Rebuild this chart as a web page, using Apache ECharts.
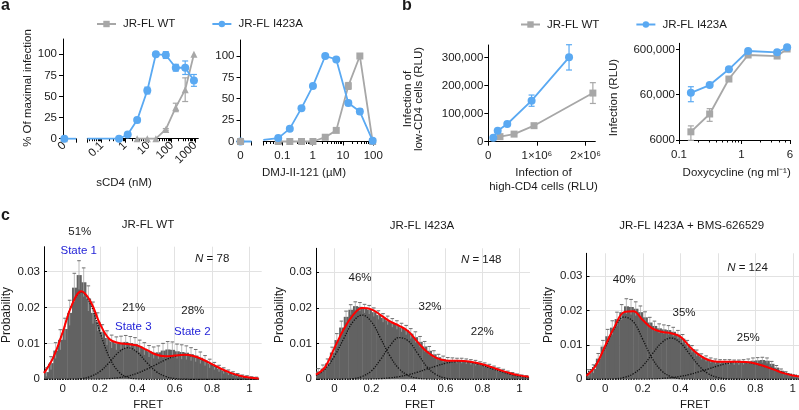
<!DOCTYPE html>
<html><head><meta charset="utf-8"><title>chart</title>
<script src="https://cdn.jsdelivr.net/npm/echarts@6.0.0/dist/echarts.min.js"></script>
<style>html,body{margin:0;padding:0;background:#fff;}#chart{width:799px;height:410px;}</style>
</head><body><div id="chart"></div>
<script>
// ================= DATA =================
// Panel a (left): sCD4 (nM)
const sCD4_x        = [0.55, 1.3, 3.3, 9, 21, 56, 150, 380, 900];
const sCD4_I423A_y  = [0, 5, 22, 57, 100, 99, 84, 84, 69];
const sCD4_I423A_e  = [0, 1, 3, 4, 2, 4, 4, 8, 7];
const sCD4_WT_x     = [3.3, 9, 21, 56, 150, 380, 900];
const sCD4_WT_y     = [0, 0, 0, 11, 37, 58, 100];
const sCD4_WT_e     = [0, 0, 0, 1, 5, 14, 0];
const sCD4_zero     = [0, 0];          // [WT, I423A] at 0 nM
const sCD4_lead     = [0.024, 0];      // I423A line start at axis edge
const sCD4_ticks    = [0.1, 1, 10, 100, 1000];
const pct_ticks     = [0, 25, 50, 75, 100];

// Panel a (right): DMJ-II-121 (uM)
const dmj_x         = [0.073, 0.176, 0.427, 1.02, 2.6, 6, 15, 36, 95];
const dmj_I423A_y   = [4, 15, 39, 65, 100, 96, 45, 35, 1];
const dmj_I423A_e   = [0, 0, 0, 0, 0, 0, 3, 3, 0];
const dmj_WT_y      = [0, 0, 0, 0, 5, 13, 65, 100, 0];
const dmj_WT_e      = [0, 0, 0, 0, 0, 0, 4, 0, 0];
const dmj_zero      = [0, 0];
const dmj_lead      = [0.0235, 2];
const dmj_ticks     = [0.1, 1, 10, 100];

// Panel b (left): high-CD4 vs low-CD4 infection (RLU)
const b1_I423A_x    = [0.103e6, 0.193e6, 0.39e6, 0.89e6, 1.66e6];
const b1_I423A_y    = [14000, 39000, 63000, 146000, 300000];
const b1_I423A_e    = [0, 4000, 3000, 20000, 45000];
const b1_WT_x       = [0.24e6, 0.53e6, 0.94e6, 2.15e6];
const b1_WT_y       = [18000, 27000, 57000, 173000];
const b1_WT_e       = [2000, 2000, 3000, 37000];
const b1_xticks     = [0, 1e6, 2e6];
const b1_xlabels    = ['0', '1×10⁶', '2×10⁶'];
const b1_yticks     = [0, 100000, 200000, 300000];

// Panel b (right): Doxycycline (ng/ml) vs infection (RLU)
const dox_x         = [0.155, 0.31, 0.63, 1.28, 3.73, 5.4];
const dox_I423A_y   = [66000, 98000, 218000, 553000, 517000, 667000];
const dox_I423A_e   = [24000, 5000, 15000, 30000, 20000, 30000];
const dox_WT_y      = [9100, 22500, 133000, 451000, 428000, 612000];
const dox_WT_e      = [3200, 7000, 8000, 20000, 20000, 25000];
const dox_xticks    = [0.1, 1, 6];
const dox_yticks    = [6000, 60000, 600000];
const dox_ylabels   = ['6000', '60,000', '600,000'];

// Panel c: FRET histograms
const binWidth = 0.025;
const fretBins = [-0.0875,-0.0625,-0.0375,-0.0125,0.0125,0.0375,0.0625,0.0875,0.1125,0.1375,0.1625,0.1875,0.2125,0.2375,0.2625,0.2875,0.3125,0.3375,0.3625,0.3875,0.4125,0.4375,0.4625,0.4875,0.5125,0.5375,0.5625,0.5875,0.6125,0.6375,0.6625,0.6875,0.7125,0.7375,0.7625,0.7875,0.8125,0.8375,0.8625,0.8875,0.9125,0.9375,0.9625,0.9875,1.0125,1.0375];
const fret_ticks = [0, 0.2, 0.4, 0.6, 0.8, 1];
const prob_ticks = [0, 0.01, 0.02, 0.03];
const fitX = [-0.1,-0.05,0,0.05,0.1,0.15,0.2,0.25,0.3,0.35,0.4,0.45,0.5,0.55,0.6,0.65,0.7,0.75,0.8,0.85,0.9,0.95,1.0,1.05];

const wt_hist = [0.0020,0.0045,0.0080,0.0110,0.0140,0.0185,0.0255,0.0290,0.0270,0.0225,0.0185,0.0160,0.0132,0.0115,0.0105,0.0100,0.0102,0.0104,0.0101,0.0098,0.0092,0.0085,0.0078,0.0074,0.0075,0.0080,0.0083,0.0082,0.0078,0.0076,0.0074,0.0070,0.0066,0.0060,0.0052,0.0044,0.0037,0.0030,0.0024,0.0019,0.0015,0.0011,0.0008,0.0006,0.0004,0.0003];
const wt_err  = [0.0012,0.0018,0.0022,0.0028,0.003,0.0035,0.004,0.004,0.004,0.0035,0.003,0.0025,0.002,0.002,0.0018,0.0018,0.0018,0.0018,0.0018,0.0018,0.0017,0.0017,0.0016,0.0016,0.0018,0.002,0.0022,0.0022,0.002,0.002,0.0019,0.0018,0.0017,0.0016,0.0014,0.0012,0.001,0.0009,0.0008,0.0007,0.0006,0.0005,0.0004,0.0004,0.0003,0.0003];
const wt_fit  = [0.0017,0.0061,0.0131,0.0208,0.0245,0.0216,0.0154,0.0112,0.0101,0.0098,0.0094,0.0082,0.0069,0.0064,0.0066,0.0068,0.0065,0.0055,0.0042,0.0029,0.0018,0.0010,0.0005,0.0002];
const wt_s1   = [0.0021,0.0061,0.0131,0.0208,0.0243,0.0208,0.0131,0.0061,0.0021,0.0005,0.0001,0,0,0,0,0,0,0,0,0,0,0,0,0];
const wt_s3   = [0,0,0,0.00003,0.0002,0.0008,0.0022,0.0047,0.0075,0.0088,0.0075,0.0047,0.0022,0.0008,0.0002,0.00003,0,0,0,0,0,0,0,0];
const wt_s2   = [0,0,0,0,0.00001,0.00003,0.00008,0.0002,0.00045,0.0009,0.0017,0.0028,0.0041,0.0054,0.0064,0.0068,0.0064,0.0054,0.0041,0.0028,0.0017,0.0009,0.00045,0.0002];

const mut_hist = [0.0022,0.0030,0.0045,0.0075,0.0110,0.0145,0.0175,0.0195,0.0205,0.0203,0.0198,0.0195,0.0188,0.0180,0.0172,0.0165,0.0158,0.0152,0.0145,0.0138,0.0128,0.0118,0.0105,0.0092,0.0080,0.0070,0.0062,0.0057,0.0054,0.0053,0.0052,0.0052,0.0050,0.0048,0.0046,0.0043,0.0040,0.0036,0.0032,0.0027,0.0023,0.0019,0.0015,0.0012,0.0009,0.0007];
const mut_err  = [0.0008,0.001,0.0012,0.0015,0.0018,0.0018,0.0016,0.0014,0.0012,0.0012,0.0012,0.0012,0.0012,0.0012,0.0012,0.0012,0.0012,0.0012,0.0012,0.0013,0.0014,0.0015,0.0015,0.0014,0.0012,0.001,0.0008,0.0008,0.0007,0.0007,0.0007,0.0007,0.0007,0.0007,0.0007,0.0006,0.0006,0.0006,0.0005,0.0005,0.0005,0.0004,0.0004,0.0003,0.0003,0.0003];
const mut_fit  = [0.0013,0.0035,0.0088,0.0140,0.0180,0.0200,0.0196,0.0180,0.0162,0.0150,0.0134,0.0104,0.0077,0.0060,0.0053,0.0052,0.0051,0.0048,0.0042,0.0034,0.0025,0.0017,0.0011,0.0007];
const mut_s1   = [0.00105,0.0029,0.0065,0.0114,0.0161,0.0180,0.0161,0.0114,0.0065,0.0029,0.00105,0.0003,0.00007,0.00001,0,0,0,0,0,0,0,0,0,0];
const mut_s3   = [0,0,0,0.00003,0.00018,0.0008,0.0024,0.0056,0.0094,0.0117,0.0107,0.0072,0.0035,0.0013,0.00034,0.00007,0.00001,0,0,0,0,0,0,0];
const mut_s2   = [0,0,0,0,0.00001,0.00004,0.00009,0.0002,0.00041,0.00076,0.0013,0.0020,0.0029,0.0037,0.0045,0.0049,0.0050,0.0046,0.0039,0.0030,0.0022,0.0014,0.00085,0.00047];

const bms_hist = [0.0018,0.0030,0.0060,0.0095,0.0125,0.0150,0.0175,0.0195,0.0212,0.0210,0.0205,0.0195,0.0180,0.0165,0.0155,0.0148,0.0145,0.0143,0.0138,0.0130,0.0118,0.0102,0.0088,0.0076,0.0066,0.0060,0.0055,0.0052,0.0050,0.0050,0.0050,0.0049,0.0049,0.0050,0.0052,0.0054,0.0055,0.0056,0.0054,0.0045,0.0034,0.0025,0.0018,0.0012,0.0009,0.0006];
const bms_err  = [0.001,0.0012,0.0015,0.0018,0.002,0.002,0.002,0.0022,0.0022,0.0022,0.002,0.0018,0.0016,0.0015,0.0014,0.0013,0.0013,0.0013,0.0013,0.0012,0.0012,0.0011,0.001,0.0009,0.0008,0.0008,0.0007,0.0007,0.0007,0.0007,0.0007,0.0007,0.0007,0.0007,0.0007,0.0008,0.0008,0.0008,0.0008,0.0007,0.0006,0.0005,0.0004,0.0003,0.0003,0.0003];
const bms_fit  = [0.0010,0.0040,0.0098,0.0153,0.0195,0.0198,0.0172,0.0148,0.0138,0.0134,0.0124,0.0095,0.0071,0.0056,0.0051,0.0051,0.0051,0.0050,0.0046,0.0038,0.0028,0.0018,0.0011,0.0007];
const bms_s1   = [0.0016,0.0044,0.0093,0.0149,0.0181,0.0167,0.0116,0.0061,0.0025,0.00075,0.00017,0.00003,0,0,0,0,0,0,0,0,0,0,0,0];
const bms_s3   = [0,0,0.00003,0.00013,0.00053,0.0016,0.0039,0.0073,0.0106,0.0120,0.0106,0.0073,0.0039,0.0016,0.00053,0.00013,0.00003,0,0,0,0,0,0,0];
const bms_s2   = [0,0,0,0,0,0.00002,0.00005,0.00011,0.00024,0.00047,0.00085,0.0014,0.0022,0.0030,0.0039,0.0046,0.0050,0.0049,0.0045,0.0037,0.0029,0.0020,0.0013,0.00076];

// ================= CHART =================
const FONT = '"Liberation Sans", Arial, Helvetica, sans-serif';
const BLUE = '#5aa9f2', GRAY = '#a7a7a7', SBLUE = '#2424d8', INK = '#1a1a1a';
const lg = Math.log10;
const lgs = a => a.map(lg);
const zip = (xs, ys, fx, fy) => xs.map((x, i) => [fx ? fx(x) : x, fy ? fy(ys[i]) : ys[i]]);
const numStr = x => String(+x.toPrecision(4));
const nearest = (arr, v) => { let b = 0; arr.forEach((t, i) => { if (Math.abs(t - v) < Math.abs(arr[b] - v)) b = i; }); return b; };
function logMinor(lo, hi) {
  const out = [];
  for (let e = -3; e <= 6; e++) for (let k = 2; k <= 9; k++) {
    const v = k * Math.pow(10, e);
    if (v > lo && v < hi) out.push(lg(v));
  }
  return out;
}

const G = [
  [63, 39, 13, 99.7],
  [87.3, 39, 111, 99.7],
  [240.5, 40, 11, 101.5],
  [263.3, 40, 110, 101.5],
  [488.3, 45, 107, 96.7],
  [679, 43.3, 111, 96.7],
  [44, 246.7, 217.7, 132.6],
  [316, 248.3, 214, 131],
  [586.5, 253.3, 212.5, 126]
];

function axis(o) {
  return {
    type: 'value', gridIndex: o.g, min: o.min, max: o.max, show: o.show !== false, position: o.pos,
    axisLine: { show: o.line !== false, onZero: false, lineStyle: { color: '#000', width: 1 } },
    axisTick: { show: !!o.ticks, customValues: o.ticks, length: o.tl || 4, inside: !!o.inside, lineStyle: { color: '#000', width: 1 } },
    axisLabel: { show: !!o.labels, customValues: o.labels, formatter: o.fmt, margin: o.m == null ? 5 : o.m, rotate: o.rot || 0,
                 fontSize: o.fs || 11.5, color: INK, fontFamily: FONT },
    splitLine: { show: false }, splitArea: { show: false }, axisPointer: { show: false }
  };
}
const logFmt = v => numStr(Math.pow(10, v));

const A1min = lg(0.024), A1max = lg(1387), A2min = lg(0.0235), A2max = 2;
const xAxes = [
  axis({ g: 0, min: 0, max: 1, ticks: [1], labels: [0.1], fmt: () => '0', rot: 45, m: 5, pos: 'bottom' }),
  axis({ g: 1, min: A1min, max: A1max, ticks: [A1min].concat(lgs(sCD4_ticks)), labels: lgs(sCD4_ticks), fmt: logFmt, rot: 45, m: 5, pos: 'bottom' }),
  axis({ g: 1, min: A1min, max: A1max, line: false, ticks: logMinor(0.024, 1387), tl: 2.5, pos: 'bottom' }),
  axis({ g: 2, min: 0, max: 1, ticks: [1], labels: [0], fmt: () => '0', m: 8, pos: 'bottom' }),
  axis({ g: 3, min: A2min, max: A2max, ticks: [A2min].concat(lgs(dmj_ticks)), labels: lgs(dmj_ticks), fmt: logFmt, m: 8, pos: 'bottom' }),
  axis({ g: 3, min: A2min, max: A2max, line: false, ticks: logMinor(0.0235, 100), tl: 2.5, pos: 'bottom' }),
  axis({ g: 4, min: 0, max: 2.2e6, ticks: b1_xticks, labels: b1_xticks, fmt: v => b1_xlabels[nearest(b1_xticks, v)], m: 8, pos: 'bottom' }),
  axis({ g: 5, min: -1, max: lg(6), ticks: lgs(dox_xticks), labels: lgs(dox_xticks), fmt: v => numStr(dox_xticks[nearest(lgs(dox_xticks), v)]), m: 9, pos: 'bottom' }),
  axis({ g: 5, min: -1, max: lg(6), line: false, ticks: logMinor(0.1, 6), tl: 2.5, pos: 'bottom' }),
  axis({ g: 6, min: -0.1, max: 1.066, line: false, labels: fret_ticks, fmt: v => numStr(v), m: 4, pos: 'bottom' }),
  axis({ g: 7, min: -0.1, max: 1.057, line: false, labels: fret_ticks, fmt: v => numStr(v), m: 4, pos: 'bottom' }),
  axis({ g: 8, min: -0.1, max: 1.033, line: false, labels: fret_ticks, fmt: v => numStr(v), m: 4, pos: 'bottom' })
];
const yAxes = [
  axis({ g: 0, min: 0, max: 118, ticks: pct_ticks, labels: pct_ticks, fmt: v => numStr(v), m: 6, pos: 'left' }),
  axis({ g: 1, min: 0, max: 118, show: false }),
  axis({ g: 2, min: 0, max: 118.7, ticks: pct_ticks, labels: pct_ticks, fmt: v => numStr(v), m: 6, pos: 'left' }),
  axis({ g: 3, min: 0, max: 118.7, show: false }),
  axis({ g: 4, min: 0, max: 344000, ticks: b1_yticks, labels: b1_yticks, fmt: v => v.toLocaleString('en-US'), m: 5, pos: 'left' }),
  axis({ g: 5, min: lg(6000), max: lg(818000), ticks: lgs(dox_yticks), labels: lgs(dox_yticks), fmt: v => dox_ylabels[nearest(lgs(dox_yticks), v)], m: 4, tl: 3, pos: 'left' }),
  axis({ g: 6, min: 0, max: 0.0369, ticks: prob_ticks, labels: prob_ticks, fmt: v => numStr(v), m: 4, tl: 3, inside: true, pos: 'left' }),
  axis({ g: 7, min: 0, max: 0.0367, ticks: prob_ticks, labels: prob_ticks, fmt: v => numStr(v), m: 4, tl: 3, inside: true, pos: 'left' }),
  axis({ g: 8, min: 0, max: 0.0366, ticks: prob_ticks, labels: prob_ticks, fmt: v => numStr(v), m: 4, tl: 3, inside: true, pos: 'left' })
];

const series = [];
function line(name, xi, yi, data, color, symbol, size, z, width) {
  series.push({ type: 'line', name, xAxisIndex: xi, yAxisIndex: yi, data, symbol, symbolSize: size,
    lineStyle: { color, width: width || 1.8 }, itemStyle: { color }, z: z || 3, clip: false, silent: true,
    emphasis: { disabled: true }, animation: false });
}
function errRender(color, cap) {
  return function (params, api) {
    const x = api.value(0), lo = api.value(1), hi = api.value(2);
    const a = api.coord([x, lo]), b = api.coord([x, hi]);
    const st = { stroke: color, lineWidth: 1.2 };
    return { type: 'group', children: [
      { type: 'line', shape: { x1: a[0], y1: a[1], x2: b[0], y2: b[1] }, style: st },
      { type: 'line', shape: { x1: a[0] - cap, y1: a[1], x2: a[0] + cap, y2: a[1] }, style: st },
      { type: 'line', shape: { x1: b[0] - cap, y1: b[1], x2: b[0] + cap, y2: b[1] }, style: st }
    ]};
  };
}
function errs(xi, yi, xs, ys, es, fx, fy, color) {
  const data = [];
  xs.forEach((x, i) => { if (es[i] > 0) data.push([fx(x), fy(Math.max(1e-9, ys[i] - es[i])), fy(ys[i] + es[i])]); });
  series.push({ type: 'custom', xAxisIndex: xi, yAxisIndex: yi, data, renderItem: errRender(color, 3), z: 2, silent: true, animation: false });
}
const id = v => v;

// ---- panel a right (first so legend gets square icon) ----
line('JR-FL WT', 4, 3, zip(dmj_x, dmj_WT_y, lg), GRAY, 'rect', 7, 3);
line('JR-FL I423A', 4, 3, [{ value: [lg(dmj_lead[0]), dmj_lead[1]], symbol: 'none' }].concat(zip(dmj_x, dmj_I423A_y, lg)), BLUE, 'circle', 8, 4);
errs(4, 3, dmj_x, dmj_WT_y, dmj_WT_e, lg, id, GRAY);
errs(4, 3, dmj_x, dmj_I423A_y, dmj_I423A_e, lg, id, BLUE);
line('', 3, 2, [[0, dmj_zero[1]], { value: [1, dmj_zero[1]], symbol: 'none' }], BLUE, 'circle', 8, 3);
line('', 3, 2, [[0, dmj_zero[0]]], GRAY, 'rect', 7, 4);

// ---- panel a left ----
line('', 1, 1, zip(sCD4_WT_x, sCD4_WT_y, lg), GRAY, 'triangle', 7, 3);
line('', 1, 1, [{ value: [lg(sCD4_lead[0]), sCD4_lead[1]], symbol: 'none' }].concat(zip(sCD4_x, sCD4_I423A_y, lg)), BLUE, 'circle', 8, 4);
errs(1, 1, sCD4_WT_x, sCD4_WT_y, sCD4_WT_e, lg, id, GRAY);
errs(1, 1, sCD4_x, sCD4_I423A_y, sCD4_I423A_e, lg, id, BLUE);
line('', 0, 0, [[0.1, sCD4_zero[0]]], GRAY, 'triangle', 7, 3);
line('', 0, 0, [[0.1, sCD4_zero[1]], { value: [1, sCD4_zero[1]], symbol: 'none' }], BLUE, 'circle', 8, 4);

// ---- panel b left ----
line('JR-FL WT', 6, 4, zip(b1_WT_x, b1_WT_y), GRAY, 'rect', 7, 3);
line('JR-FL I423A', 6, 4, zip(b1_I423A_x, b1_I423A_y), BLUE, 'circle', 8, 4);
errs(6, 4, b1_WT_x, b1_WT_y, b1_WT_e, id, id, GRAY);
errs(6, 4, b1_I423A_x, b1_I423A_y, b1_I423A_e, id, id, BLUE);

// ---- panel b right ----
line('JR-FL WT', 7, 5, zip(dox_x, dox_WT_y, lg, lg), GRAY, 'rect', 7, 3);
line('JR-FL I423A', 7, 5, zip(dox_x, dox_I423A_y, lg, lg), BLUE, 'circle', 8, 4);
errs(7, 5, dox_x, dox_WT_y, dox_WT_e, lg, lg, GRAY);
errs(7, 5, dox_x, dox_I423A_y, dox_I423A_e, lg, lg, BLUE);

// ---- panel c ----
function histRender(params, api) {
  const x = api.value(0), y = api.value(1), e = api.value(2);
  const p0 = api.coord([x - binWidth / 2, 0]);
  const p1 = api.coord([x + binWidth / 2, y]);
  const top = api.coord([x, y + e]);
  const bot = api.coord([x, Math.max(0, y - e)]);
  return { type: 'group', children: [
    { type: 'rect', shape: { x: p0[0], y: p1[1], width: p1[0] - p0[0] + 0.4, height: p0[1] - p1[1] }, style: { fill: '#626262' } },
    { type: 'line', shape: { x1: top[0], y1: top[1], x2: bot[0], y2: bot[1] }, style: { stroke: '#a9a9a9', lineWidth: 0.8 } },
    { type: 'line', shape: { x1: top[0] - 1.8, y1: top[1], x2: top[0] + 1.8, y2: top[1] }, style: { stroke: '#6f6f6f', lineWidth: 1 } }
  ]};
}
function fretPanel(xi, yi, hist, err, fit, comps) {
  series.push({ type: 'line', xAxisIndex: xi, yAxisIndex: yi, data: [], silent: true, z: 0, animation: false,
    markLine: { silent: true, symbol: 'none', label: { show: false }, animation: false, z: 0,
      lineStyle: { color: '#e2e2e2', width: 1, type: 'solid' },
      data: fret_ticks.map(v => ({ xAxis: v })).concat(prob_ticks.slice(1).map(v => ({ yAxis: v }))) } });
  series.push({ type: 'custom', xAxisIndex: xi, yAxisIndex: yi, data: fretBins.map((x, i) => [x, hist[i], err[i]]),
    renderItem: histRender, z: 1, silent: true, animation: false });
  comps.forEach(c => series.push({ type: 'line', xAxisIndex: xi, yAxisIndex: yi, data: zip(fitX, c), smooth: 0.4, symbol: 'none',
    lineStyle: { color: '#111', width: 1.3, type: 'dotted' }, z: 3, silent: true, animation: false }));
  series.push({ type: 'line', xAxisIndex: xi, yAxisIndex: yi, data: zip(fitX, fit), smooth: 0.4, symbol: 'none',
    lineStyle: { color: '#ff0000', width: 2 }, z: 4, silent: true, animation: false });
}
fretPanel(9, 6, wt_hist, wt_err, wt_fit, [wt_s1, wt_s3, wt_s2]);
fretPanel(10, 7, mut_hist, mut_err, mut_fit, [mut_s1, mut_s3, mut_s2]);
fretPanel(11, 8, bms_hist, bms_err, bms_fit, [bms_s1, bms_s3, bms_s2]);

// ---- texts ----
function T(text, x, y, o) {
  o = o || {};
  return { type: 'text', x, y, rotation: o.rot || 0, silent: true, z: 100,
    style: { text, fill: o.color || INK, fontSize: o.fs || 11.5, fontFamily: FONT, fontWeight: o.bold ? 'bold' : 'normal',
      align: o.align || 'center', verticalAlign: 'middle', lineHeight: o.lh, rich: o.rich } };
}
const R90 = Math.PI / 2;
const nRich = { i: { fontStyle: 'italic', fontSize: 11.5, fontFamily: FONT, fill: INK } };
const graphics = [
  T('a', 1, 6, { bold: true, fs: 16, align: 'left' }),
  T('b', 402, 6, { bold: true, fs: 16, align: 'left' }),
  T('c', 1, 216, { bold: true, fs: 16, align: 'left' }),
  T('% Of maximal infection', 28, 88, { rot: R90 }),
  T('sCD4 (nM)', 124, 183),
  T('DMJ-II-121 (µM)', 304, 173.3),
  T('Infection of\nlow-CD4 cells (RLU)', 413.5, 99, { rot: R90, lh: 11.5 }),
  T('Infection of\nhigh-CD4 cells (RLU)', 543.5, 180, { lh: 13.4 }),
  T('Infection (RLU)', 613.5, 97.5, { rot: R90 }),
  T('Doxycycline (ng ml⁻¹)', 736.7, 172.7),
  T('JR-FL WT', 148, 225),
  T('JR-FL I423A', 422, 226),
  T('JR-FL I423A + BMS-626529', 691.7, 225.5),
  T('Probability', 7, 315, { rot: R90, fs: 12 }),
  T('Probability', 279.5, 315, { rot: R90, fs: 12 }),
  T('Probability', 548.5, 315, { rot: R90, fs: 12 }),
  T('FRET', 148.3, 404.5),
  T('FRET', 420, 404.5),
  T('FRET', 695, 404.5),
  T('51%', 79.8, 231.5),
  T('State 1', 78.7, 250.8, { color: SBLUE }),
  T('{i|N} = 78', 212.2, 258.5, { rich: nRich }),
  T('21%', 133.7, 308.3),
  T('28%', 192.8, 310.8),
  T('State 3', 133.3, 327.2, { color: SBLUE }),
  T('State 2', 192.3, 331.8, { color: SBLUE }),
  T('{i|N} = 148', 481.2, 259.8, { rich: nRich }),
  T('46%', 360, 278.2),
  T('32%', 430, 306.5),
  T('22%', 482.3, 331.5),
  T('{i|N} = 124', 747.5, 267.5, { rich: nRich }),
  T('40%', 624.3, 280),
  T('35%', 684, 312.5),
  T('25%', 748.3, 337.5)
];

const legendBase = { itemWidth: 19, itemHeight: 8, itemGap: 36, selectedMode: false, data: ['JR-FL WT', 'JR-FL I423A'],
  textStyle: { fontSize: 11.5, fontFamily: FONT, color: INK, padding: [0, 0, 0, 2] } };

const chart = echarts.init(document.getElementById('chart'), null, { renderer: 'canvas', width: 799, height: 410 });
chart.setOption({
  animation: false,
  backgroundColor: '#ffffff',
  textStyle: { fontFamily: FONT },
  grid: G.map(g => ({ left: g[0], top: g[1], width: g[2], height: g[3], containLabel: false, outerBoundsMode: 'none', show: false })),
  xAxis: xAxes,
  yAxis: yAxes,
  legend: [
    Object.assign({}, legendBase, { left: 91, top: 13 }),
    Object.assign({}, legendBase, { left: 515, top: 13.5 })
  ],
  tooltip: { show: false },
  series,
  graphic: graphics
});
</script></body></html>
